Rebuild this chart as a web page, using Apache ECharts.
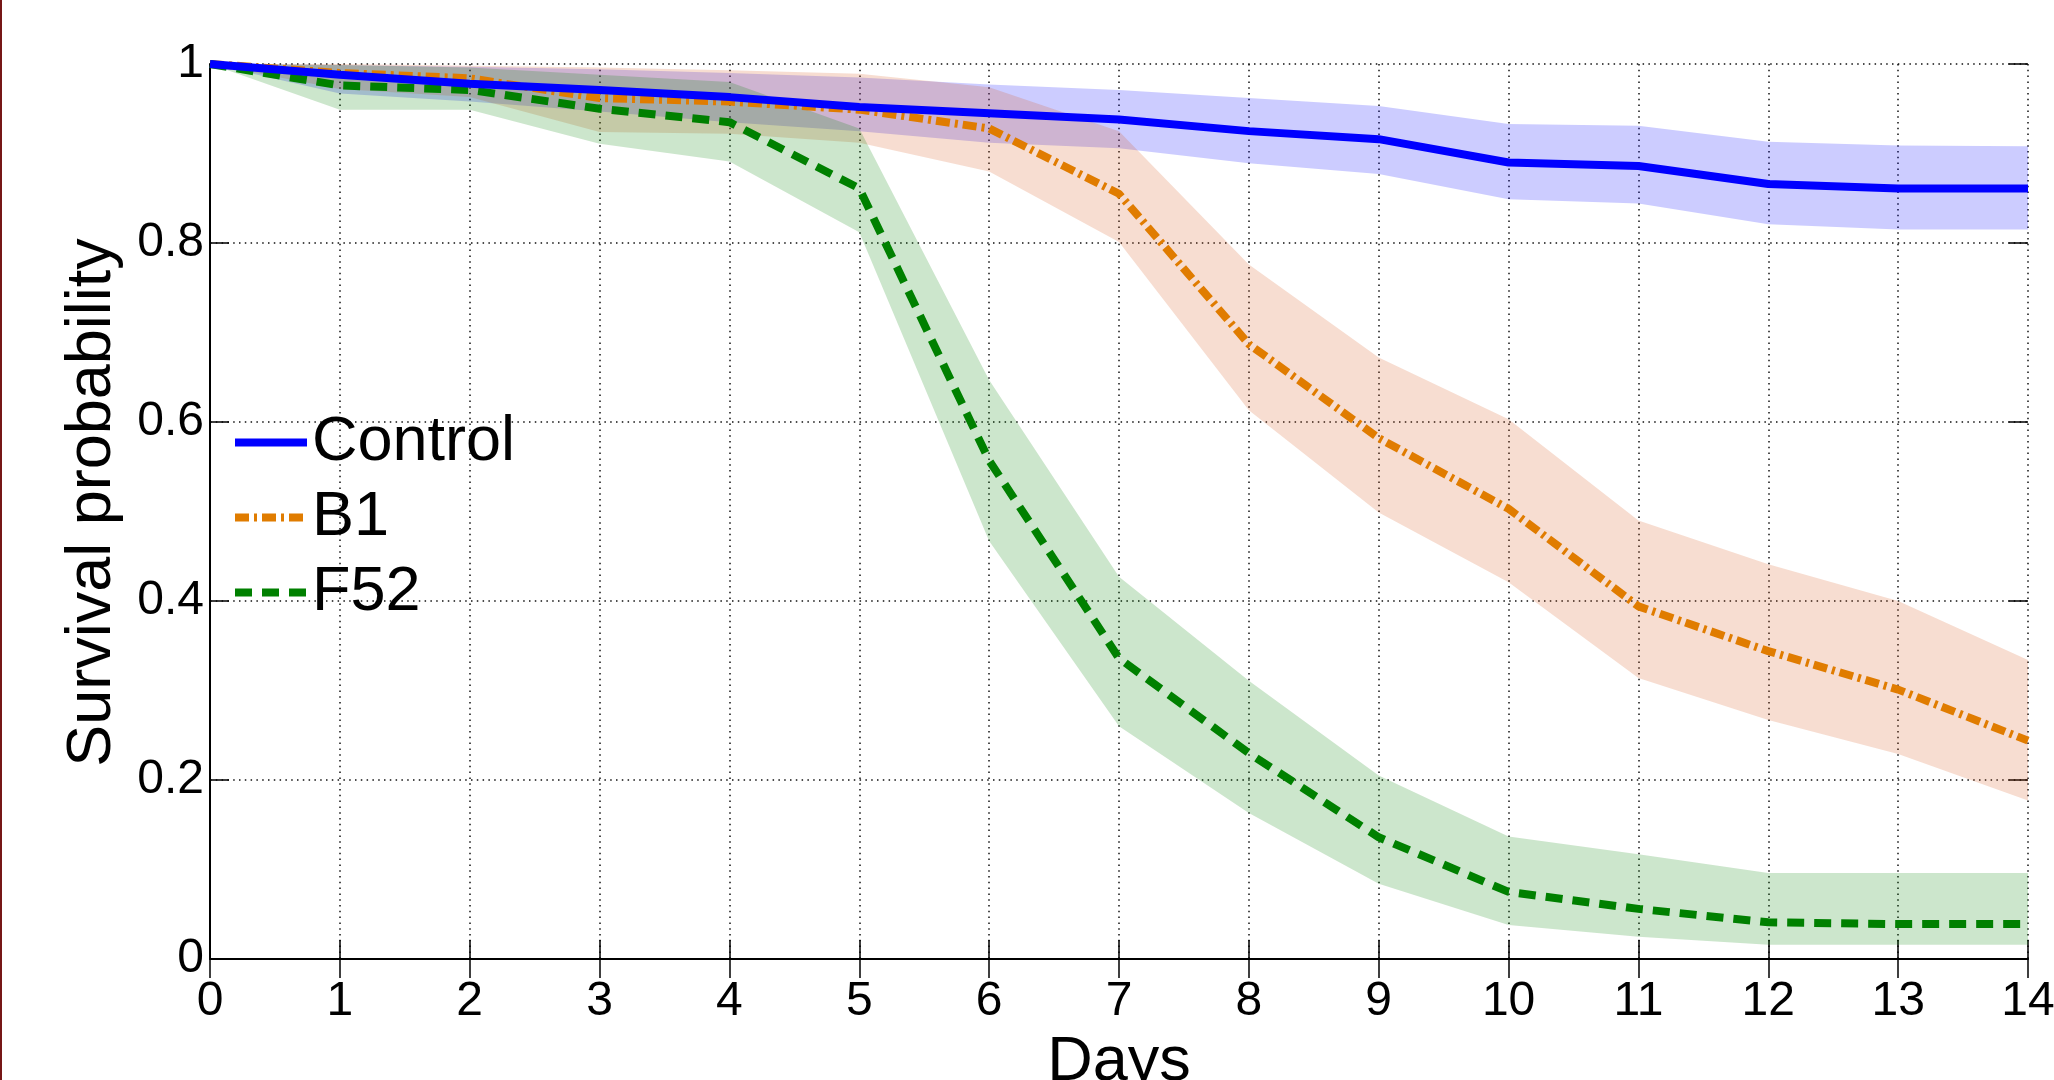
<!DOCTYPE html>
<html>
<head>
<meta charset="utf-8">
<title>Survival probability</title>
<script src="https://cdn.jsdelivr.net/npm/echarts@6/dist/echarts.min.js"></script>
<style>
    html, body { margin: 0; padding: 0; background: #fff; }
    #main { position: absolute; left: 0; top: 0; width: 2054px; height: 1080px; }
    #edge { position: absolute; left: 0; top: 0; width: 2px; height: 1080px; background: #761717; }
</style>
</head>
<body>
<div id="main"></div>
<div id="edge"></div>
<script>
var days = ['0', '1', '2', '3', '4', '5', '6', '7', '8', '9', '10', '11', '12', '13', '14'];

var control      = [1, 0.988, 0.978, 0.971, 0.963, 0.952, 0.945, 0.938, 0.925, 0.916, 0.890, 0.886, 0.866, 0.861, 0.861];
var controlUpper = [1, 0.999, 0.997, 0.994, 0.990, 0.985, 0.977, 0.971, 0.962, 0.953, 0.933, 0.931, 0.913, 0.909, 0.908];
var controlLower = [1, 0.967, 0.958, 0.947, 0.935, 0.925, 0.912, 0.906, 0.889, 0.877, 0.849, 0.844, 0.821, 0.815, 0.815];

var b1      = [1, 0.990, 0.984, 0.962, 0.958, 0.949, 0.928, 0.855, 0.687, 0.582, 0.503, 0.394, 0.344, 0.301, 0.244];
var b1Upper = [1, 1.000, 0.998, 0.996, 0.993, 0.989, 0.974, 0.925, 0.776, 0.672, 0.603, 0.490, 0.441, 0.400, 0.334];
var b1Lower = [1, 0.972, 0.963, 0.924, 0.922, 0.912, 0.880, 0.801, 0.613, 0.499, 0.421, 0.314, 0.267, 0.229, 0.177];

var f52      = [1, 0.976, 0.971, 0.950, 0.935, 0.861, 0.557, 0.336, 0.230, 0.136, 0.075, 0.056, 0.041, 0.039, 0.039];
var f52Upper = [1, 0.999, 0.996, 0.988, 0.980, 0.928, 0.647, 0.427, 0.311, 0.205, 0.137, 0.117, 0.096, 0.096, 0.096];
var f52Lower = [1, 0.949, 0.949, 0.911, 0.891, 0.812, 0.467, 0.260, 0.163, 0.084, 0.038, 0.025, 0.016, 0.016, 0.016];

var FONT = '"Liberation Sans", Arial, Helvetica, sans-serif';

function spread(upper, lower) {
    var out = [];
    for (var i = 0; i < upper.length; i++) {
        out.push(+(upper[i] - lower[i]).toFixed(4));
    }
    return out;
}

// confidence band = invisible lower line + stacked area on top of it
function band(key, upper, lower, color) {
    return [{
        name: key + '-lo',
        type: 'line',
        stack: key,
        data: lower,
        symbol: 'none',
        lineStyle: { width: 0, opacity: 0 },
        silent: true
    }, {
        name: key + '-hi',
        type: 'line',
        stack: key,
        data: spread(upper, lower),
        symbol: 'none',
        lineStyle: { width: 0, opacity: 0 },
        areaStyle: { color: color, opacity: 0.2 },
        silent: true
    }];
}

function curve(name, vals, color, dash) {
    return {
        name: name,
        type: 'line',
        data: vals,
        symbol: 'none',
        lineStyle: { color: color, width: 8, type: dash, cap: 'butt' },
        itemStyle: { color: color },
        silent: true
    };
}

var series = [];
series.push(curve('B1', b1, '#e07c00', [14, 5, 3, 5]));
series.push(curve('F52', f52, '#008000', [17, 10]));
series = series.concat(band('c', controlUpper, controlLower, '#0000ff'));
series = series.concat(band('b', b1Upper, b1Lower, '#d95319'));
series = series.concat(band('f', f52Upper, f52Lower, '#008000'));
series.push(curve('Control', control, '#0000ff', 'solid'));

var dotted = { type: [1.5, 4.3], color: '#111', width: 1.5 };
var tick = { show: true, inside: true, length: 19, alignWithLabel: true, lineStyle: { color: '#000', width: 1.5 } };

var option = {
    backgroundColor: '#fff',
    animation: false,
    grid: { left: 210, right: 26, top: 64, bottom: 121, containLabel: false, outerBoundsMode: 'none' },
    legend: {
        data: ['Control', 'B1', 'F52'],
        orient: 'vertical',
        left: 231,
        top: 411,
        padding: 0,
        itemWidth: 72,
        itemHeight: 20,
        itemGap: 12,
        lineStyle: { width: 8 },
        itemStyle: { opacity: 0, borderWidth: 0 },
        textStyle: { fontSize: 63, lineHeight: 63, color: '#000', fontFamily: FONT },
        selectedMode: false
    },
    xAxis: [{
        type: 'category',
        data: days,
        boundaryGap: false,
        position: 'bottom',
        name: 'Days',
        nameLocation: 'middle',
        nameGap: 63,
        nameTextStyle: { fontSize: 63, lineHeight: 63, color: '#000', fontFamily: FONT },
        axisLine: { show: true, lineStyle: { color: '#000', width: 2 } },
        axisTick: tick,
        axisLabel: { fontSize: 48, lineHeight: 48, margin: 19, color: '#000', fontFamily: FONT, interval: 0 },
        splitLine: { show: true, interval: 0, lineStyle: dotted }
    }, {
        type: 'category',
        data: days,
        boundaryGap: false,
        position: 'top',
        axisLine: { show: false },
        axisTick: tick,
        axisLabel: { show: false },
        splitLine: { show: false }
    }],
    yAxis: [{
        type: 'value',
        position: 'left',
        min: 0,
        max: 1,
        interval: 0.2,
        name: 'Survival probability',
        nameLocation: 'middle',
        nameGap: 86,
        nameTextStyle: { fontSize: 63, lineHeight: 63, color: '#000', fontFamily: FONT, padding: [0, 0, 0, 18] },
        axisLine: { show: true, lineStyle: { color: '#000', width: 2 } },
        axisTick: tick,
        axisLabel: { fontSize: 48, lineHeight: 48, margin: 6, color: '#000', fontFamily: FONT },
        splitLine: { show: true, lineStyle: dotted }
    }, {
        type: 'value',
        position: 'right',
        min: 0,
        max: 1,
        interval: 0.2,
        axisLine: { show: false },
        axisTick: tick,
        axisLabel: { show: false },
        splitLine: { show: false }
    }],
    series: series
};

var myChart = echarts.init(document.getElementById('main'));
myChart.setOption(option);
</script>
</body>
</html>
